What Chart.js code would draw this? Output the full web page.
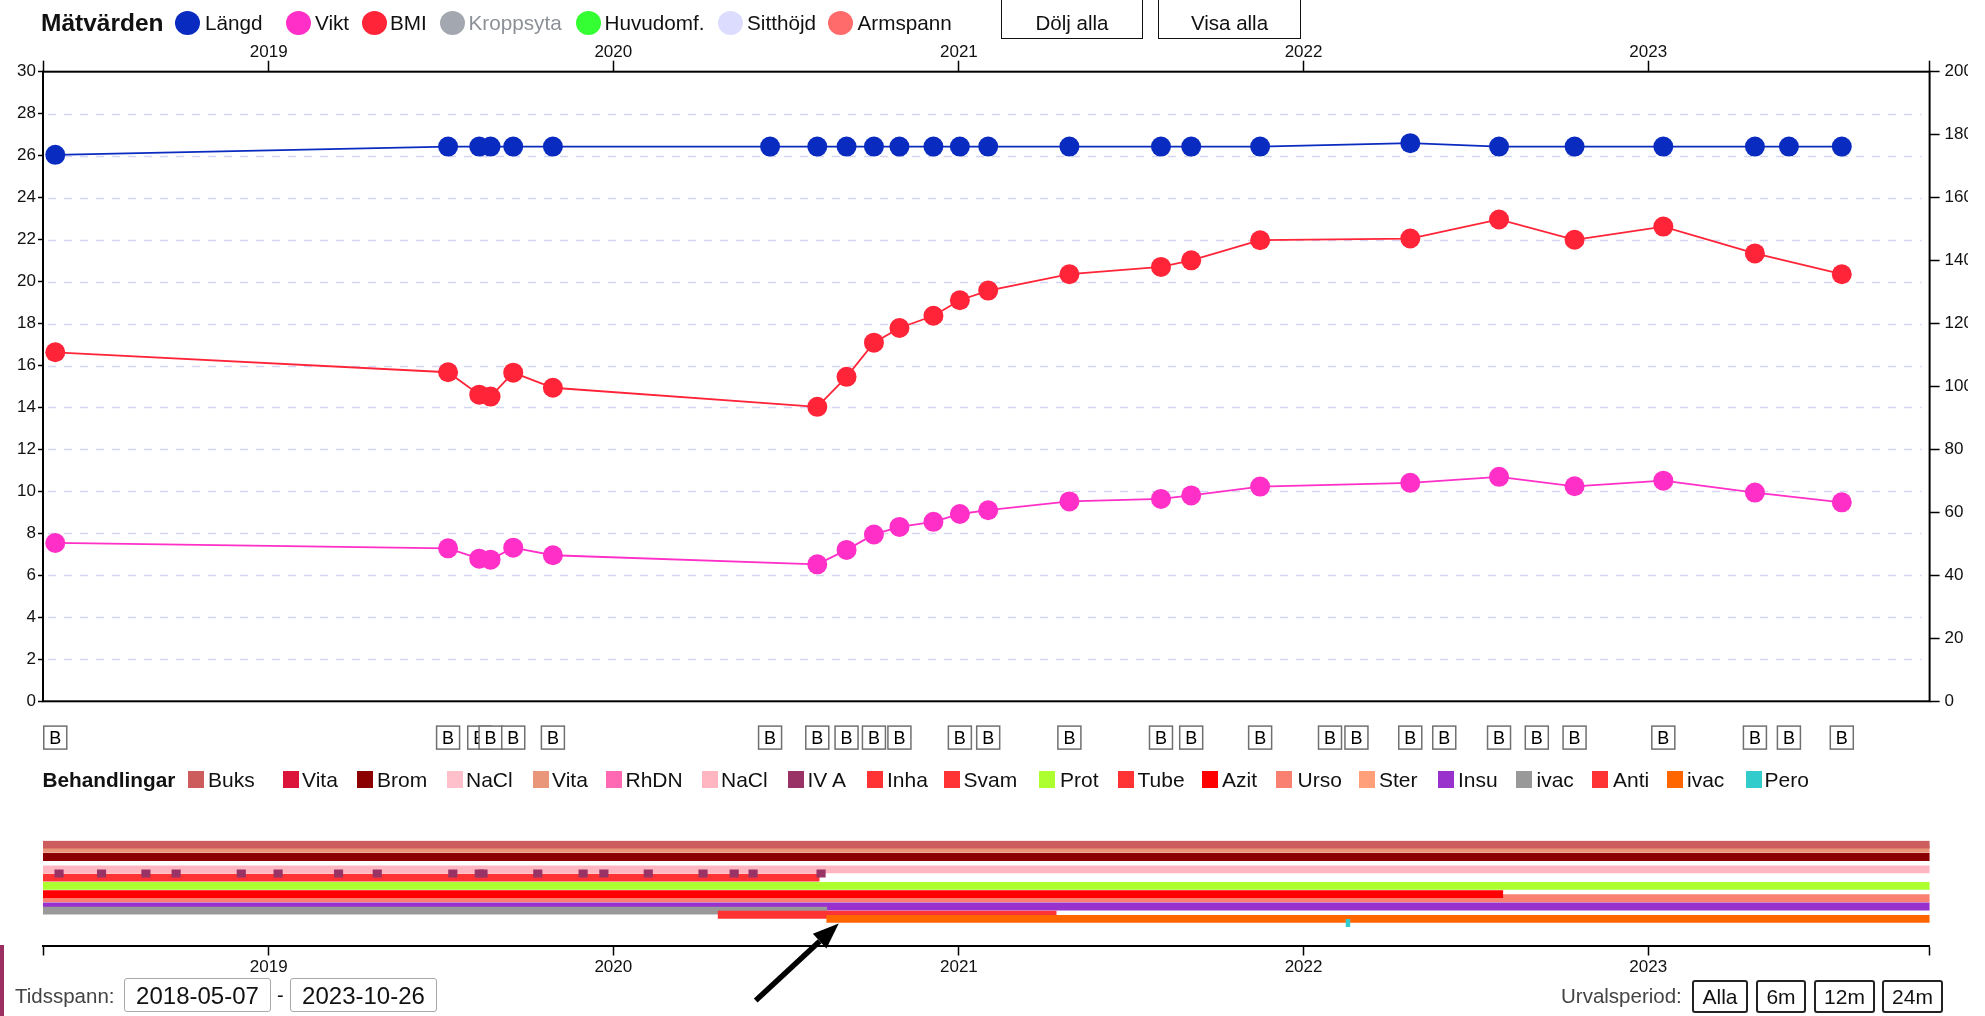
<!DOCTYPE html>
<html lang="sv">
<head>
<meta charset="utf-8">
<title>Mätvärden</title>
<script src="https://cdn.jsdelivr.net/npm/chart.js@4.4.1/dist/chart.umd.min.js"></script>
<style>
html, body { margin:0; padding:0; background:#fff; overflow:hidden; }
body { width:1985px; height:1016px; position:relative; font-family:'Liberation Sans', Arial, sans-serif; color:#111; }
canvas { position:absolute; left:0; top:0; }
.a { position:absolute; white-space:nowrap; z-index:2; }
.lbl { top:11px; font-size:20.7px; line-height:24px; }
.dot { position:absolute; top:11px; width:25px; height:24px; border-radius:50%; z-index:2; }
.sq { position:absolute; top:771px; width:16px; height:17px; z-index:2; }
.bl { top:768px; font-size:21px; line-height:24px; }
.topbtn { position:absolute; top:-2px; height:40px; border:1.5px solid #111; border-top:none; font-size:20.5px; line-height:50px; text-align:center; z-index:2; }
.inp { position:absolute; top:978px; width:145px; height:32px; border:1px solid #a8a8a8; border-radius:3px; font-size:24px; line-height:33px; text-align:center; z-index:2; }
.btn { position:absolute; top:980px; height:29px; border:2px solid #222; border-radius:3px; font-size:21px; line-height:30px; text-align:center; z-index:2; }
</style>
</head>
<body>
<canvas id="main" width="1968" height="1016"></canvas>
<canvas id="tl" width="2010" height="1016"></canvas>

<!-- Mätvärden -->
<div class="a" style="left:41px;top:8px;font-size:24.5px;font-weight:bold;line-height:30px">Mätvärden</div>
<div class="dot" style="left:175px;background:#0a2bbf"></div><div class="a lbl" style="left:205px">Längd</div>
<div class="dot" style="left:286px;background:#ff2fc8"></div><div class="a lbl" style="left:315px">Vikt</div>
<div class="dot" style="left:362px;background:#ff2438"></div><div class="a lbl" style="left:390px">BMI</div>
<div class="dot" style="left:440px;background:#a3a8b0"></div><div class="a lbl" style="left:468.5px;color:#8c9198">Kroppsyta</div>
<div class="dot" style="left:576px;background:#33ff33"></div><div class="a lbl" style="left:604.5px">Huvudomf.</div>
<div class="dot" style="left:718px;background:#dcdcff"></div><div class="a lbl" style="left:747px">Sitthöjd</div>
<div class="dot" style="left:828px;background:#ff6b6b"></div><div class="a lbl" style="left:857.5px">Armspann</div>
<div class="topbtn" style="left:1001px;width:140px">Dölj alla</div>
<div class="topbtn" style="left:1158px;width:141px">Visa alla</div>

<!-- Behandlingar -->
<div class="a" style="left:42.5px;top:768px;font-size:20.8px;font-weight:bold;line-height:24px">Behandlingar</div>
<div class="sq" style="left:188px;background:#CD5C5C"></div><div class="a bl" style="left:208px">Buks</div>
<div class="sq" style="left:282.5px;background:#DC143C"></div><div class="a bl" style="left:302px">Vita</div>
<div class="sq" style="left:357px;background:#8B0000"></div><div class="a bl" style="left:377px">Brom</div>
<div class="sq" style="left:446.5px;background:#FFC0CB"></div><div class="a bl" style="left:466px">NaCl</div>
<div class="sq" style="left:532.5px;background:#E9967A"></div><div class="a bl" style="left:552px">Vita</div>
<div class="sq" style="left:606px;background:#FF69B4"></div><div class="a bl" style="left:625.5px">RhDN</div>
<div class="sq" style="left:701.5px;background:#FFB6C1"></div><div class="a bl" style="left:721px">NaCl</div>
<div class="sq" style="left:787.5px;background:#993366"></div><div class="a bl" style="left:807.5px">IV A</div>
<div class="sq" style="left:867px;background:#FF3333"></div><div class="a bl" style="left:887px">Inha</div>
<div class="sq" style="left:944px;background:#FF3333"></div><div class="a bl" style="left:963.5px">Svam</div>
<div class="sq" style="left:1039px;background:#ADFF2F"></div><div class="a bl" style="left:1060px">Prot</div>
<div class="sq" style="left:1117.5px;background:#FF3333"></div><div class="a bl" style="left:1137.5px">Tube</div>
<div class="sq" style="left:1202px;background:#FF0000"></div><div class="a bl" style="left:1222px">Azit</div>
<div class="sq" style="left:1276px;background:#FA8072"></div><div class="a bl" style="left:1297.5px">Urso</div>
<div class="sq" style="left:1359px;background:#FFA07A"></div><div class="a bl" style="left:1379px">Ster</div>
<div class="sq" style="left:1438px;background:#9932CC"></div><div class="a bl" style="left:1458px">Insu</div>
<div class="sq" style="left:1516px;background:#999999"></div><div class="a bl" style="left:1536.5px">ivac</div>
<div class="sq" style="left:1592px;background:#FF3333"></div><div class="a bl" style="left:1613px">Anti</div>
<div class="sq" style="left:1667px;background:#FF6600"></div><div class="a bl" style="left:1687px">ivac</div>
<div class="sq" style="left:1745.5px;background:#33CCCC"></div><div class="a bl" style="left:1764.5px">Pero</div>

<!-- urval -->
<div class="a" style="left:0;top:945px;width:4px;height:71px;background:#9c2f62"></div>
<div class="a" style="left:15px;top:984px;font-size:20.5px;line-height:24px;color:#444">Tidsspann:</div>
<div class="inp" style="left:124px">2018-05-07</div>
<div class="a" style="left:277px;top:983px;font-size:20px;line-height:24px">-</div>
<div class="inp" style="left:290px">2023-10-26</div>
<div class="a" style="left:1561px;top:984px;font-size:20.5px;line-height:24px;color:#444">Urvalsperiod:</div>
<div class="btn" style="left:1692px;width:52px">Alla</div>
<div class="btn" style="left:1756px;width:46px">6m</div>
<div class="btn" style="left:1814px;width:57px">12m</div>
<div class="btn" style="left:1882px;width:57px">24m</div>

<script>
const FONT = "'Liberation Sans', Arial, sans-serif";
const DAY = 86400000;

const rangeStart = '2018-05-07';
const rangeEnd = '2023-10-26';
const yearTicks = ['2019-01-01', '2020-01-01', '2021-01-01', '2022-01-01', '2023-01-01'];

// mätningar
const measureDates = ['2018-05-20', '2019-07-10', '2019-08-12', '2019-08-24', '2019-09-17', '2019-10-29',
  '2020-06-15', '2020-08-04', '2020-09-04', '2020-10-03', '2020-10-30', '2020-12-05', '2021-01-02',
  '2021-02-01', '2021-04-28', '2021-08-03', '2021-09-04', '2021-11-16', '2022-04-24', '2022-07-27',
  '2022-10-15', '2023-01-17', '2023-04-24', '2023-05-30', '2023-07-25'];
const langd = [173.6, 176.2, 176.2, 176.2, 176.2, 176.2, 176.2, 176.2, 176.2, 176.2, 176.2, 176.2, 176.2,
  176.2, 176.2, 176.2, 176.2, 176.2, 177.3, 176.2, 176.2, 176.2, 176.2, 176.2, 176.2];
const vikt = [50.3, 48.6, 45.3, 45.0, 48.8, 46.4, null, 43.5, 48.1, 53.0, 55.4, 57.0, 59.5,
  60.7, 63.5, 64.3, 65.4, 68.2, 69.4, 71.3, 68.3, 70.1, 66.3, null, 63.2];
const bmi = [16.63, 15.68, 14.61, 14.52, 15.66, 14.94, null, 14.03, 15.46, 17.09, 17.79, 18.37, 19.11,
  19.57, 20.35, 20.70, 21.01, 21.97, 22.05, 22.96, 21.99, 22.62, 21.34, null, 20.35];

// besök (B)
const besokDates = ['2018-05-20', '2019-07-10', '2019-08-12', '2019-08-24', '2019-09-17', '2019-10-29',
  '2020-06-15', '2020-08-04', '2020-09-04', '2020-10-03', '2020-10-30', '2021-01-02', '2021-02-01',
  '2021-04-28', '2021-08-03', '2021-09-04', '2021-11-16', '2022-01-29', '2022-02-26', '2022-04-24',
  '2022-05-30', '2022-07-27', '2022-09-05', '2022-10-15', '2023-01-17', '2023-04-24', '2023-05-30',
  '2023-07-25'];

// behandlingar i ritordning: rad, start, slut
const barName  = ['Urso', 'Azit', 'Prot', 'Inha', 'NaCl', 'Brom', 'Vita', 'Buks', 'Insu', 'ivac', 'Anti', 'ivac', 'Pero'];
const barRow   = [13, 12, 10, 8, 6, 3, 1, 0, 15, 16, 17, 18, 19];
const barStart = ['2018-05-07', '2018-05-07', '2018-05-07', '2018-05-07', '2018-05-07', '2018-05-07', '2018-05-07',
  '2018-05-07', '2018-05-07', '2018-05-07', '2020-04-21', '2020-08-14', '2022-02-15'];
const barEnd   = ['2023-10-26', '2022-07-31', '2023-10-26', '2020-08-06', '2023-10-26', '2023-10-26', '2023-10-26',
  '2023-10-26', '2023-10-26', '2020-08-14', '2021-04-14', '2023-10-26', '2022-02-19'];
const ivaRow = 7;
const ivaDoses = ['2018-05-24', '2018-07-08', '2018-08-24', '2018-09-25', '2018-12-03', '2019-01-11',
  '2019-03-16', '2019-04-26', '2019-07-15', '2019-08-12', '2019-08-16', '2019-10-13', '2019-11-30',
  '2019-12-22', '2020-02-07', '2020-04-05', '2020-05-08', '2020-05-28', '2020-08-08'];

// färger
const barColor = ['#FA8072', '#FF0000', '#ADFF2F', '#FF3333', '#FFB6C1', '#8B0000', '#E9967A', '#CD5C5C',
  '#9932CC', '#999999', '#FF3333', '#FF6600', '#33CCCC'];
const ivaColor = '#993366';
const arrowAt = '2020-08-14';

const ts = s => Date.parse(s + 'T00:00:00Z');
const pts = arr => measureDates.map((d, i) => ({ x: ts(d), y: arr[i] }));

function yearAxis(position, tickLen, pad) {
  return {
    type: 'linear', position, min: ts(rangeStart), max: ts(rangeEnd), offset: false,
    afterBuildTicks: sc => {
      sc.ticks = [ts(rangeStart), ...yearTicks.map(ts), ts(rangeEnd)].map(v => ({ value: v }));
    },
    ticks: {
      autoSkip: false, maxRotation: 0, padding: pad, color: '#111', font: { size: 17, family: FONT },
      callback: v => yearTicks.includes(new Date(v).toISOString().slice(0, 10)) ? String(new Date(v).getUTCFullYear()) : ''
    },
    grid: { drawOnChartArea: false, drawTicks: true, tickLength: tickLen, tickColor: '#000', tickWidth: 1.5 },
    border: { display: false }
  };
}

const frame = {
  id: 'frame',
  beforeDatasetsDraw(chart) {
    const { ctx, chartArea: a } = chart;
    const sy = chart.scales.y;
    ctx.save();
    ctx.strokeStyle = '#d6d6f4';
    ctx.lineWidth = 1.5;
    ctx.setLineDash([8, 8]);
    for (let v = 2; v < 30; v += 2) {
      const y = Math.round(sy.getPixelForValue(v)) + 0.5;
      ctx.beginPath(); ctx.moveTo(a.left + 5, y); ctx.lineTo(a.right - 8, y); ctx.stroke();
    }
    ctx.setLineDash([]);
    ctx.strokeStyle = '#000';
    ctx.lineWidth = 2;
    ctx.strokeRect(a.left, a.top, a.right - a.left, a.bottom - a.top);
    ctx.restore();
  }
};

const besok = {
  id: 'besok',
  afterDatasetsDraw(chart) {
    const { ctx, chartArea: a } = chart;
    const sx = chart.scales.x;
    const y = a.bottom + 36.3;
    ctx.save();
    ctx.font = '18px ' + FONT;
    ctx.textAlign = 'center';
    ctx.textBaseline = 'middle';
    besokDates.forEach(d => {
      const x = sx.getPixelForValue(ts(d));
      ctx.fillStyle = '#fff';
      ctx.fillRect(x - 11.5, y - 11.5, 23, 23);
      ctx.strokeStyle = '#707070';
      ctx.lineWidth = 1.5;
      ctx.strokeRect(x - 11.5, y - 11.5, 23, 23);
      ctx.fillStyle = '#000';
      ctx.fillText('B', x, y + 1);
    });
    ctx.restore();
  }
};

const lineSet = (label, data, color, axis) => ({
  label, data, yAxisID: axis, borderColor: color, backgroundColor: color,
  borderWidth: 1.8, pointRadius: 10, pointBorderWidth: 0, pointBackgroundColor: color,
  spanGaps: true, tension: 0, fill: false
});

new Chart(document.getElementById('main'), {
  type: 'line',
  data: {
    datasets: [
      lineSet('Längd', pts(langd), '#0a2bbf', 'yR'),
      lineSet('BMI', pts(bmi), '#ff2438', 'y'),
      lineSet('Vikt', pts(vikt), '#ff2fc8', 'yR')
    ]
  },
  options: {
    responsive: false, animation: false, events: [],
    layout: { padding: { top: 0, left: 0, right: 0, bottom: 314.7 } },
    plugins: { legend: { display: false }, tooltip: { enabled: false } },
    scales: {
      x: Object.assign(yearAxis('top', 11, -2), { afterFit: s => { s.height = 71.7; } }),
      y: {
        position: 'left', min: 0, max: 30,
        ticks: { stepSize: 2, padding: 2, color: '#111', font: { size: 17, family: FONT } },
        grid: { drawOnChartArea: false, tickLength: 5, tickColor: '#000', tickWidth: 1.5 },
        border: { display: false },
        afterFit: s => { s.width = 43; }
      },
      yR: {
        position: 'right', min: 0, max: 200,
        ticks: { stepSize: 20, padding: 5, color: '#111', font: { size: 17, family: FONT } },
        grid: { drawOnChartArea: false, tickLength: 10, tickColor: '#000', tickWidth: 1.5 },
        border: { display: false },
        afterFit: s => { s.width = 38.4; }
      }
    }
  },
  plugins: [frame, besok]
});

// tidslinje för behandlingar
const barData = [];
const barBg = [];
barName.forEach((n, i) => {
  barData.push({ x: [ts(barStart[i]), ts(barEnd[i])], y: barRow[i] });
  barBg.push(barColor[i]);
  if (n === 'NaCl') {
    ivaDoses.forEach(d => {
      barData.push({ x: [ts(d) - 4.5 * DAY, ts(d) + 4.5 * DAY], y: ivaRow });
      barBg.push(ivaColor);
    });
  }
});

const arrow = {
  id: 'arrow',
  afterDraw(chart) {
    const { ctx, chartArea: a } = chart;
    const tipX = chart.scales.x.getPixelForValue(ts(arrowAt)) + 12;
    const tipY = a.bottom - 22;
    const tailX = tipX - 83, tailY = tipY + 77;
    const ang = Math.atan2(tipY - tailY, tipX - tailX);
    const headLen = 26, headHalf = 10;
    const bx = tipX - headLen * Math.cos(ang), by = tipY - headLen * Math.sin(ang);
    ctx.save();
    ctx.strokeStyle = '#000';
    ctx.fillStyle = '#000';
    ctx.lineWidth = 5.5;
    ctx.beginPath(); ctx.moveTo(tailX, tailY); ctx.lineTo(bx, by); ctx.stroke();
    ctx.beginPath();
    ctx.moveTo(tipX, tipY);
    ctx.lineTo(bx + headHalf * Math.sin(ang), by - headHalf * Math.cos(ang));
    ctx.lineTo(bx - headHalf * Math.sin(ang), by + headHalf * Math.cos(ang));
    ctx.closePath(); ctx.fill();
    ctx.restore();
  }
};

new Chart(document.getElementById('tl'), {
  type: 'bar',
  data: { datasets: [{ data: barData, backgroundColor: barBg, borderWidth: 0, barThickness: 7.3 }] },
  options: {
    indexAxis: 'y', responsive: false, animation: false, events: [],
    layout: { padding: { top: 840.5, left: 43, right: 80.4, bottom: 0 } },
    plugins: { legend: { display: false }, tooltip: { enabled: false } },
    scales: {
      x: Object.assign(yearAxis('bottom', 10, 2), {
        border: { display: true, color: '#000', width: 2 },
        afterFit: s => { s.height = 70.5; }
      }),
      y: { type: 'linear', display: false, reverse: true, min: -1, max: 24.45, offset: false }
    }
  },
  plugins: [arrow]
});
</script>
</body>
</html>
